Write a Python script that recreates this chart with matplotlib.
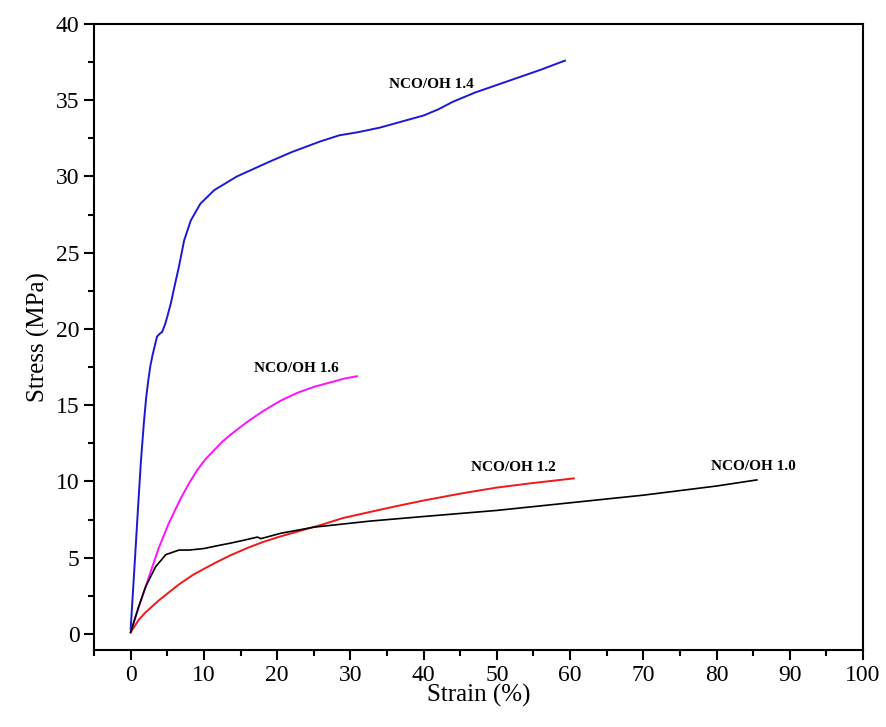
import matplotlib.pyplot as plt
from matplotlib.ticker import MultipleLocator

plt.rcParams['font.family'] = ['Liberation Serif', 'DejaVu Serif']

# NCO/OH 1.4
strain_14 = [0, 0.5, 1.0, 1.4, 1.8, 2.1, 2.4, 2.7, 3.0, 3.3, 3.6, 4.0, 4.3, 4.7, 5.0, 5.5, 5.9,
             6.6, 7.3, 8.2, 9.5, 11.4, 14.5, 19.1, 22.0, 25.9, 28.5,
             31.0, 34.0, 37.0, 40.0, 42.0, 44.0, 47.0, 50.0, 53.0, 56.0, 59.3]
stress_14 = [0.3, 4.2, 8.2, 11.3, 13.8, 15.4, 16.6, 17.6, 18.3, 18.9, 19.5, 19.7, 19.8, 20.3, 20.8, 21.7, 22.6,
             24.1, 25.8, 27.1, 28.2, 29.1, 30.0, 31.0, 31.6, 32.3, 32.7,
             32.9, 33.2, 33.6, 34.0, 34.4, 34.9, 35.5, 36.0, 36.5, 37.0, 37.6]

# NCO/OH 1.6
strain_16 = [0, 1.0, 2.05, 2.96, 3.85, 5.2, 6.8, 8.0, 9.1, 10.2, 11.4, 12.5, 13.6,
             15.9, 18.2, 20.5, 22.7, 25.0, 27.3, 29.2, 30.9]
stress_16 = [0.1, 1.6, 3.1, 4.4, 5.65, 7.25, 8.85, 9.9, 10.75, 11.45, 12.05, 12.6, 13.05,
             13.9, 14.65, 15.3, 15.8, 16.2, 16.5, 16.75, 16.9]

# NCO/OH 1.2
strain_12 = [0, 1.1, 2, 3.85, 6.6, 8.6, 11.5, 13.6, 16, 18.2, 20.5, 22.7, 26, 29, 32.7, 36, 40, 45, 50, 55, 60.5]
stress_12 = [0.1, 0.92, 1.4, 2.2, 3.25, 3.9, 4.65, 5.15, 5.65, 6.05, 6.4, 6.7, 7.15, 7.6, 8.0, 8.35, 8.75, 9.2, 9.6, 9.9, 10.2]

# NCO/OH 1.0
strain_10 = [0, 1.1, 2.05, 3.4, 4.8, 6.6, 8.0, 10, 12, 13.6, 15.5, 17.3, 17.8, 20.5, 25, 32.7, 40, 50, 60, 70, 80, 85.5]
stress_10 = [0.1, 1.8, 3.1, 4.4, 5.2, 5.5, 5.5, 5.6, 5.8, 5.95, 6.15, 6.35, 6.25, 6.6, 7.0, 7.4, 7.7, 8.1, 8.6, 9.1, 9.7, 10.1]

labels = ['NCO/OH 1.4', 'NCO/OH 1.6', 'NCO/OH 1.2', 'NCO/OH 1.0']
label_pos = [(41, 36.0), (22.6, 17.4), (52.3, 10.9), (85, 11.0)]

fig = plt.figure(figsize=(8.87, 7.27), dpi=100)
ax = fig.add_axes([0.106, 0.106, 0.867, 0.861])

ax.plot(strain_14, stress_14, color='#1a1ad6', lw=1.4)
ax.plot(strain_16, stress_16, color='#ff10ff', lw=1.4)
ax.plot(strain_12, stress_12, color='#f01818', lw=1.4)
ax.plot(strain_10, stress_10, color='black', lw=1.2)

for txt, (x, y) in zip(labels, label_pos):
    ax.text(x, y, txt, fontsize=11, fontweight='bold', ha='center', va='center')

ax.set_xlim(-5, 100)
ax.set_ylim(-1.05, 40)
ax.xaxis.set_major_locator(MultipleLocator(10))
ax.xaxis.set_minor_locator(MultipleLocator(5))
ax.yaxis.set_major_locator(MultipleLocator(5))
ax.yaxis.set_minor_locator(MultipleLocator(2.5))
ax.tick_params(which='both', direction='out', width=1.5, labelsize=17)
ax.tick_params(which='major', length=7)
ax.tick_params(which='minor', length=4)
for s in ax.spines.values():
    s.set_linewidth(1.5)

ax.set_xlabel('Strain (%)', fontsize=18, labelpad=-1)
ax.set_ylabel('Stress (MPa)', fontsize=18, labelpad=4)

fig.savefig('out.png', dpi=100)
